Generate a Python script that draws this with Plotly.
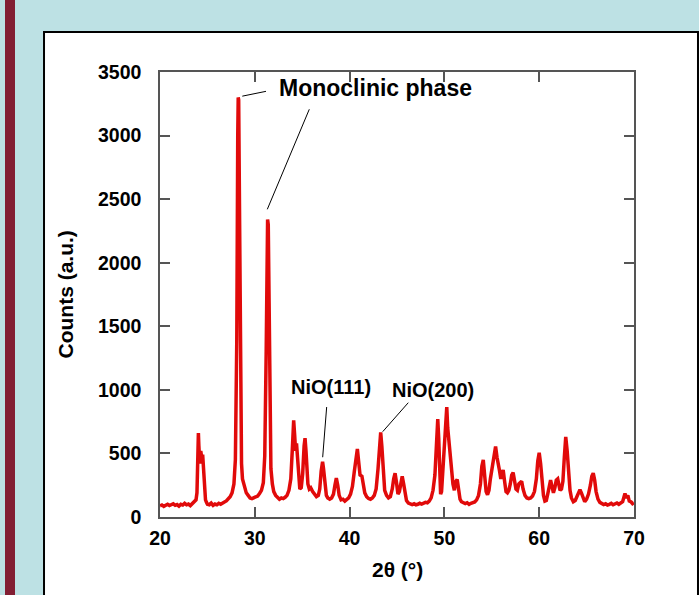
import plotly.graph_objects as go

# XRD pattern: 2-theta (degrees) and measured counts
two_theta = [
    20.0, 20.2, 20.4, 20.6, 20.8, 21.0, 21.2, 21.4, 21.6, 21.8, 22.0, 22.2, 22.4, 22.6, 22.8,
    23.0, 23.2, 23.4, 23.6, 23.8, 23.9, 24.0, 24.05, 24.1, 24.2, 24.3, 24.4, 24.5, 24.6, 24.7,
    24.8, 24.9, 25.0, 25.2, 25.4, 25.6, 25.8, 26.0, 26.2, 26.4, 26.6, 26.8, 27.0, 27.2, 27.4,
    27.6, 27.8, 27.95, 28.1, 28.2, 28.25, 28.3, 28.4, 28.5, 28.6, 28.7, 28.9, 29.1, 29.3, 29.5,
    29.7, 29.9, 30.1, 30.3, 30.5, 30.7, 30.9, 31.05, 31.2, 31.3, 31.35, 31.42, 31.5, 31.6, 31.7,
    31.85, 32.0, 32.2, 32.4, 32.6, 32.8, 33.0, 33.2, 33.4, 33.6, 33.8, 33.95, 34.1, 34.2, 34.3,
    34.4, 34.5, 34.6, 34.75, 34.9, 35.05, 35.2, 35.3, 35.4, 35.5, 35.6, 35.75, 35.9, 36.1, 36.3,
    36.5, 36.7, 36.85, 37.0, 37.15, 37.25, 37.4, 37.55, 37.7, 37.9, 38.1, 38.3, 38.45, 38.6, 38.75,
    38.9, 39.1, 39.3, 39.5, 39.7, 39.9, 40.1, 40.3, 40.5, 40.7, 40.82, 40.95, 41.1, 41.3, 41.45,
    41.6, 41.8, 42.0, 42.2, 42.4, 42.6, 42.8, 43.0, 43.15, 43.28, 43.4, 43.55, 43.7, 43.9, 44.1,
    44.3, 44.5, 44.65, 44.8, 44.95, 45.1, 45.25, 45.4, 45.55, 45.7, 45.85, 46.0, 46.2, 46.4, 46.6,
    46.8, 47.0, 47.2, 47.4, 47.6, 47.8, 48.0, 48.2, 48.4, 48.6, 48.8, 49.0, 49.15, 49.3, 49.4,
    49.5, 49.6, 49.7, 49.85, 50.0, 50.15, 50.25, 50.35, 50.5, 50.6, 50.75, 50.9, 51.05, 51.2, 51.35,
    51.5, 51.65, 51.8, 52.0, 52.2, 52.4, 52.6, 52.8, 53.0, 53.2, 53.4, 53.6, 53.8, 53.95, 54.1,
    54.25, 54.4, 54.55, 54.7, 54.85, 55.0, 55.15, 55.3, 55.4, 55.55, 55.7, 55.8, 55.95, 56.1, 56.2,
    56.35, 56.5, 56.65, 56.8, 56.95, 57.1, 57.25, 57.4, 57.55, 57.7, 57.85, 58.0, 58.15, 58.3, 58.5,
    58.7, 58.9, 59.1, 59.3, 59.5, 59.7, 59.85, 60.0, 60.15, 60.3, 60.45, 60.6, 60.75, 60.9, 61.05,
    61.2, 61.35, 61.5, 61.65, 61.8, 61.95, 62.05, 62.2, 62.35, 62.5, 62.65, 62.8, 62.95, 63.1, 63.25,
    63.4, 63.6, 63.8, 64.0, 64.15, 64.3, 64.45, 64.6, 64.8, 65.0, 65.2, 65.4, 65.55, 65.7, 65.85,
    66.0, 66.2, 66.4, 66.6, 66.8, 67.0, 67.2, 67.4, 67.6, 67.8, 68.0, 68.2, 68.4, 68.6, 68.8,
    68.95, 69.05, 69.2, 69.35, 69.5, 69.7, 69.85, 70.0,
]
counts = [
    88, 95, 84, 92, 100, 90, 96, 104, 92, 98, 86, 100, 94, 108, 96,
    102, 90, 104, 112, 135, 190, 420, 660, 560, 420, 520, 470, 490, 330, 190,
    135, 115, 100, 96, 110, 92, 102, 96, 108, 100, 112, 118, 126, 140, 160,
    190, 260, 450, 1400, 3000, 3300, 3280, 2300, 900, 420, 300, 230, 190, 170, 150,
    145, 150, 160, 165, 185, 210, 270, 480, 1300, 2100, 2340, 2300, 1500, 700, 380,
    260, 200, 170, 150, 140, 150, 145, 155, 170, 210, 300, 520, 760, 650, 520,
    580, 450, 320, 220, 230, 340, 560, 620, 520, 350, 260, 220, 230, 200, 175,
    160, 170, 220, 360, 435, 380, 240, 170, 150, 140, 150, 180, 250, 305, 250,
    170, 135, 140, 125, 135, 150, 180, 240, 360, 500, 535, 440, 330, 320, 250,
    190, 160, 145, 140, 150, 170, 220, 380, 560, 665, 560, 330, 210, 170, 150,
    160, 220, 300, 345, 270, 180, 200, 280, 320, 260, 170, 130, 110, 100, 98,
    104, 96, 100, 108, 102, 110, 115, 112, 125, 150, 210, 330, 560, 770, 620,
    330, 180, 200, 380, 600, 820, 865, 700, 560, 540, 400, 260, 210, 280, 295,
    200, 140, 120, 110, 105, 112, 100, 108, 112, 118, 135, 170, 260, 400, 450,
    340, 200, 175, 210, 300, 380, 450, 540, 555, 470, 380, 370, 300, 340, 370,
    280, 200, 190, 210, 260, 330, 350, 270, 220, 210, 260, 270, 280, 220, 170,
    150, 145, 150, 165, 200, 300, 440, 505, 420, 260, 170, 125, 130, 180, 250,
    290, 240, 190, 230, 290, 300, 260, 210, 220, 280, 470, 630, 520, 330, 210,
    150, 120, 130, 160, 195, 215, 190, 150, 120, 140, 180, 250, 320, 345, 290,
    200, 140, 115, 105, 98, 104, 94, 100, 108, 96, 104, 110, 100, 112, 120,
    160, 185, 150, 170, 125, 118, 105, 112,
]

x_ticks = [20, 30, 40, 50, 60, 70]
y_ticks = [0, 500, 1000, 1500, 2000, 2500, 3000, 3500]

FONT = "Liberation Sans, Arial, sans-serif"
RED = "#e10a0a"
AXIS = "#555555"


def peak_near(pos, window=0.3):
    """Return (2theta, counts) of the highest point within +/- window of pos."""
    best = max(
        (c, t) for t, c in zip(two_theta, counts) if abs(t - pos) <= window
    )
    return best[1], best[0]


fig = go.Figure()
fig.add_trace(go.Scatter(
    x=two_theta, y=counts, mode="lines",
    line=dict(color=RED, width=3.5),
    hoverinfo="skip", showlegend=False,
))

# Leader lines from the labels to the peaks
m1x, m1y = peak_near(28.25)
m2x, m2y = peak_near(31.35)
n1x, n1y = peak_near(37.15)
n2x, n2y = peak_near(43.28)

leaders = [
    (m1x + 0.43, m1y + 10, m1x + 2.93, m1y + 48),
    (m2x - 0.03, m2y + 80, m2x + 4.4, m2y + 867),
    (n1x + 0.01, n1y + 35, n1x + 0.43, n1y + 430),
    (n2x + 0.21, n2y + 6, n2x + 2.91, n2y + 234),
]
shapes = []
for x0, y0, x1, y1 in leaders:
    shapes.append(dict(type="line", xref="x", yref="y", x0=x0, y0=y0, x1=x1, y1=y1,
                       line=dict(color="black", width=1)))

# Page decoration: maroon strip and white panel with black border
shapes.append(dict(type="rect", xref="paper", yref="paper", layer="below",
                   x0=-0.327, x1=-0.3059, y0=-0.2, y1=1.2,
                   fillcolor="#821f33", line=dict(width=0)))
shapes.append(dict(type="rect", xref="paper", yref="paper", layer="below",
                   x0=-0.2447, x1=1.135, y0=-0.3, y1=1.0899,
                   fillcolor="white", line=dict(color="black", width=2)))

annotations = [
    dict(text="Monoclinic phase", x=42.78, y=3374, xref="x", yref="y",
         showarrow=False, font=dict(size=23, family=FONT, color="black"),
         xanchor="center", yanchor="middle"),
    dict(text="NiO(111)", x=38.04, y=1022, xref="x", yref="y",
         showarrow=False, font=dict(size=20, family=FONT, color="black"),
         xanchor="center", yanchor="middle"),
    dict(text="NiO(200)", x=48.8, y=995, xref="x", yref="y",
         showarrow=False, font=dict(size=20, family=FONT, color="black"),
         xanchor="center", yanchor="middle"),
    dict(text="2θ (°)", x=0.5, y=-0.119, xref="paper", yref="paper",
         showarrow=False, font=dict(size=21, family=FONT, color="black"),
         xanchor="center", yanchor="middle"),
    dict(text="Counts (a.u.)", x=-0.2004, y=0.5, xref="paper", yref="paper",
         showarrow=False, textangle=-90,
         font=dict(size=21, family=FONT, color="black"),
         xanchor="center", yanchor="middle"),
]

axis_common = dict(
    showline=True, linecolor=AXIS, linewidth=1.5, mirror="ticks",
    ticks="inside", ticklen=10, tickwidth=1.5, tickcolor=AXIS,
    showgrid=False, zeroline=False,
    tickfont=dict(size=19.5, family=FONT, color="black", weight="bold"),
)

fig.update_layout(
    width=699, height=595,
    margin=dict(l=160, r=65, t=72, b=78),
    paper_bgcolor="#bde1e4",
    plot_bgcolor="rgba(0,0,0,0)",
    font=dict(family=FONT, color="black", weight="bold"),
    shapes=shapes,
    annotations=annotations,
    xaxis=dict(range=[20, 70], tickvals=x_ticks, ticklabelstandoff=3, **axis_common),
    yaxis=dict(range=[0, 3500], tickvals=y_ticks, ticklabelstandoff=13, **axis_common),
)

fig.write_html("out.html")
